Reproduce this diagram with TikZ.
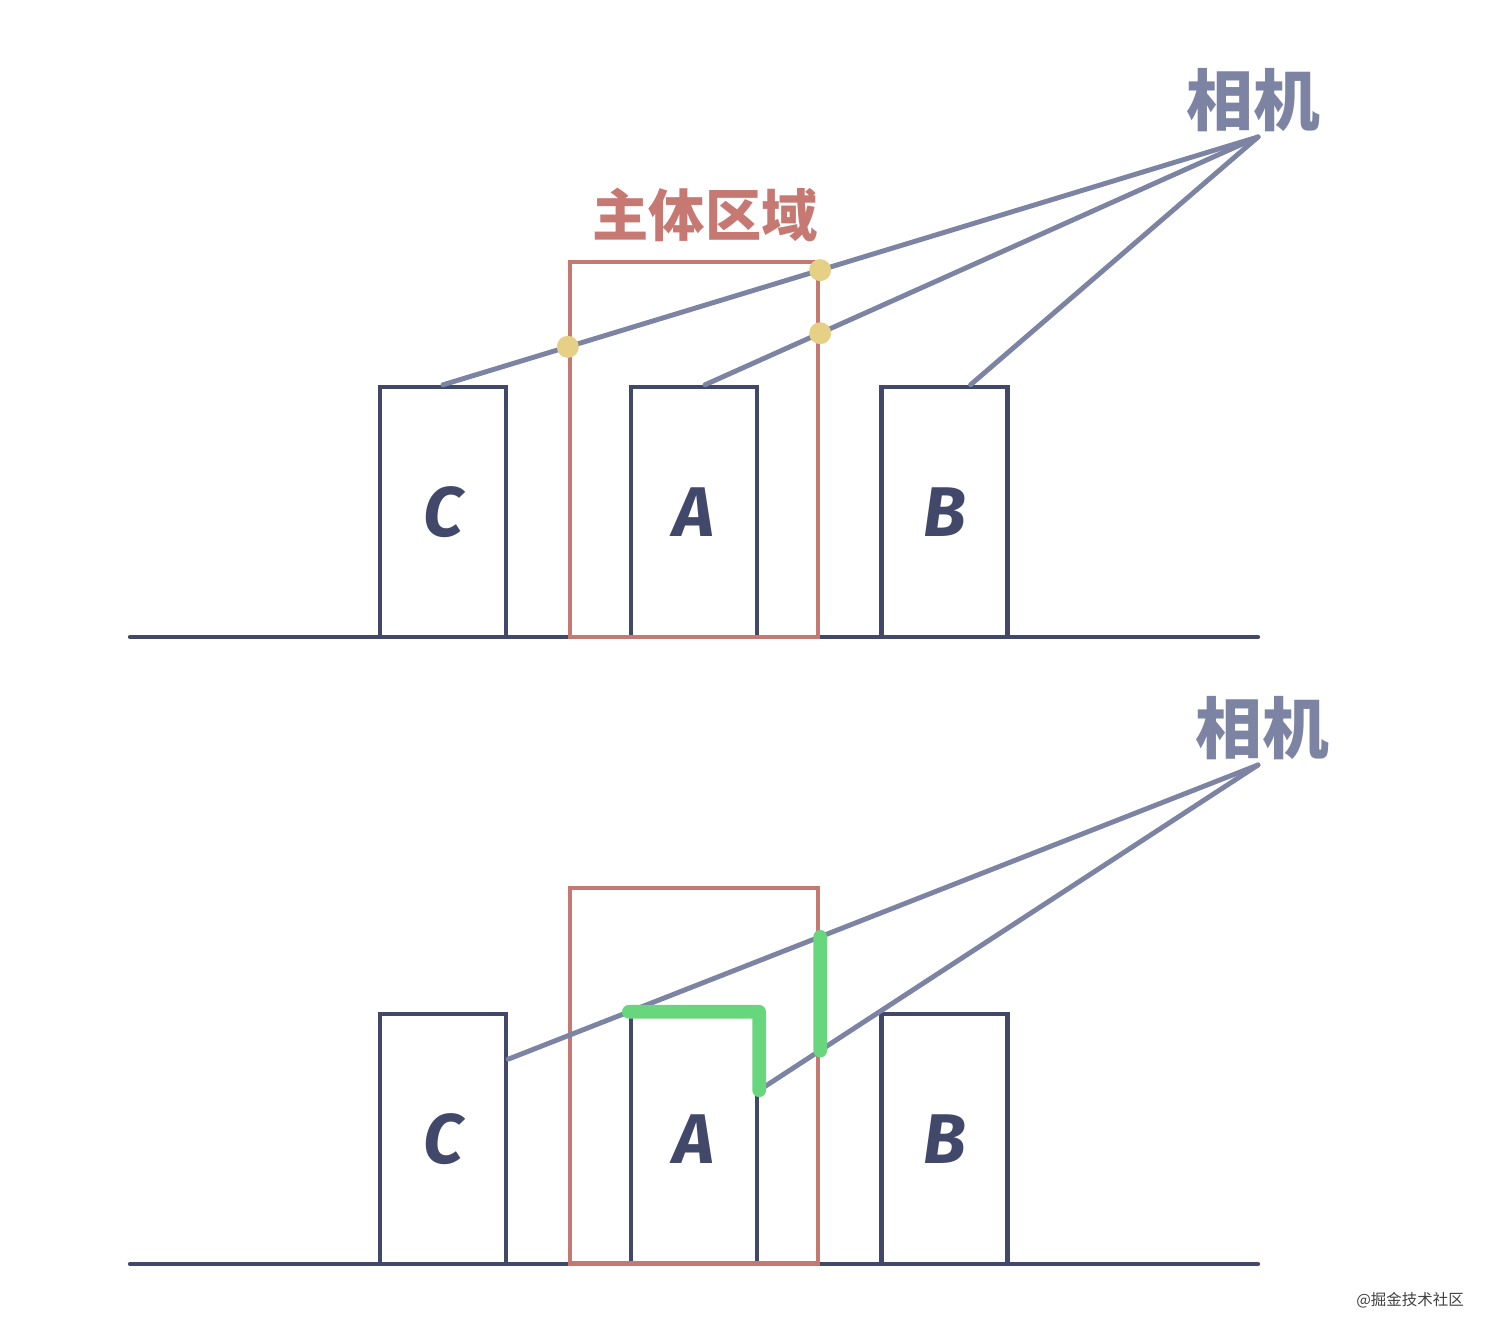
\documentclass[tikz,border=0pt]{standalone}
\usepackage{fontspec}
\usetikzlibrary{positioning, calc}
\newfontfamily\cjk{Noto Sans CJK SC}
\newfontfamily\letterfont{Fira Sans}
\definecolor{my_navy}{RGB}{66, 72, 106}
\definecolor{my_grey}{RGB}{125, 131, 162}
\definecolor{my_red}{RGB}{198, 120, 114}
\definecolor{my_yellow}{RGB}{230, 208, 134}
\definecolor{my_green}{RGB}{104, 214, 125}
\tikzset {
  ground/.style = {draw=my_navy, line width=1.2pt, line cap=round},
  house/.style = {draw=my_navy, line width=1.2pt, rectangle, minimum width=1.26cm, minimum height=2.5cm, inner sep=0pt, text=my_navy, font=\letterfont\bfseries\itshape\fontsize{20}{20}\selectfont},
  region/.style = {draw=my_red, line width=1.2pt, rectangle, minimum width=2.48cm, minimum height=3.75cm, inner sep=0pt},
  ray/.style = {draw=my_grey, line width=1.4pt, line cap=round},
  hit/.style = {circle, fill=my_yellow, minimum size=0.22cm, inner sep=0pt},
  shade/.style = {draw=my_green, line width=3.9pt, line cap=round, line join=round},
  camlabel/.style = {text=my_grey, font=\cjk\bfseries\fontsize{19}{19}\selectfont},
  reglabel/.style = {text=my_red, font=\cjk\bfseries\fontsize{16}{16}\selectfont}
}

\begin{document}
\begin{tikzpicture}[x={(0.01cm,0)}, y={(0,-0.01cm)}]
    \useasboundingbox (0,0) rectangle (1490,1334);

    % upper view
    \coordinate (g1l) at (130,637);
    \coordinate (g1r) at (1258,637);
    \draw[ground] (g1l) -- (g1r);
    \node[house] (c1) at (443,512) {C};
    \node[house] (a1) at (694,512) {A};
    \node[house] (b1) at (944.5,512) {B};
    \node[region] (r1) at (694,449.5) {};
    \node[reglabel] (t1) at (705,215) {主体区域};

    \coordinate (cam1) at (1258,137);
    \node[camlabel] (k1) at (1253,100) {相机};
    \draw[ray] (cam1) -- (c1.north);
    \draw[ray] (cam1) -- ([xshift=0.11cm]a1.north);
    \draw[ray] (cam1) -- ([xshift=0.26cm]b1.north);

    \node[hit] (h1) at (intersection of cam1--c1.north and r1.north west--r1.south west) {};
    \node[hit] (h2) at (intersection of cam1--c1.north and r1.north east--r1.south east) {};
    \node[hit] (h3) at (intersection of cam1--{[xshift=0.11cm]a1.north} and r1.north east--r1.south east) {};

    % lower view
    \coordinate (g2l) at (130,1264);
    \coordinate (g2r) at (1258,1264);
    \draw[ground] (g2l) -- (g2r);
    \node[house] (c2) at (443,1139) {C};
    \node[house] (a2) at (694,1139) {A};
    \node[house] (b2) at (944.5,1139) {B};
    \node[region] (r2) at (694,1076) {};

    \coordinate (cam2) at (1258,765);
    \node[camlabel] (k2) at (1262,728) {相机};
    \coordinate (e1) at (intersection of cam2--a2.north west and c2.north east--c2.south east);
    \coordinate (e2) at (intersection of cam2--b2.north west and a2.north east--a2.south east);
    \draw[ray] (cam2) -- (e1);
    \draw[ray] (cam2) -- (e2);

    \coordinate (v1) at (intersection of cam2--e1 and r2.north east--r2.south east);
    \coordinate (v2) at (intersection of cam2--e2 and r2.north east--r2.south east);
    \draw[shade] (a2.north west) -- (a2.north east) -- (e2);
    \draw[shade] (v1) -- (v2);

    \node[text=black!75, font=\cjk\fontsize{4.4}{5}\selectfont] (wm) at (1410,1300) {@掘金技术社区};
\end{tikzpicture}
\end{document}
